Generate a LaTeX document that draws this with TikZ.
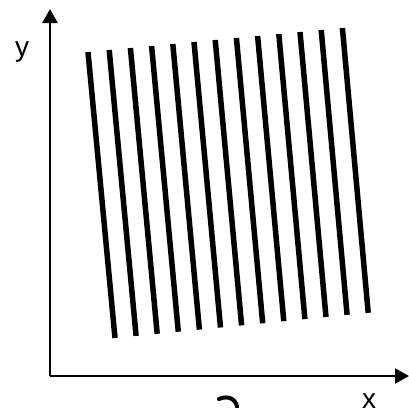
\documentclass[tikz,border=0pt]{standalone}
\usepackage{fontspec}
\setmainfont{Liberation Sans}
\usetikzlibrary{arrows.meta}
\begin{document}
\begin{tikzpicture}[x=1pt,y=-1pt,
  axis/.style={line width=2.6pt,-{Triangle[length=14pt,width=15pt]}},
  stripe/.style={line width=5.5pt},
  lbl/.style={font=\fontsize{28}{28}\selectfont,inner sep=0pt}]
\useasboundingbox (0,0) rectangle (409,407);
\coordinate (O) at (50,376);
\coordinate (Ytip) at (50,9);
\coordinate (Xtip) at (409,376);
\draw[axis] (O) -- (Ytip);
\draw[axis] (O) -- (Xtip);
\node[lbl] (ylab) at (22,52) {y};
\node[lbl,anchor=north] (xlab) at (369,393) {x};
\foreach \i in {0,...,12}{
  \coordinate (t\i) at ({88+21.2*\i},{52-2*\i});
  \coordinate (b\i) at ({115+21.1*\i},{338-2.1*\i});
  \draw[stripe] (t\i) -- (b\i);
}
\draw[line width=4pt,line cap=round] (219,399) .. controls (228,395) and (236,399) .. (237,407);
\end{tikzpicture}
\end{document}
